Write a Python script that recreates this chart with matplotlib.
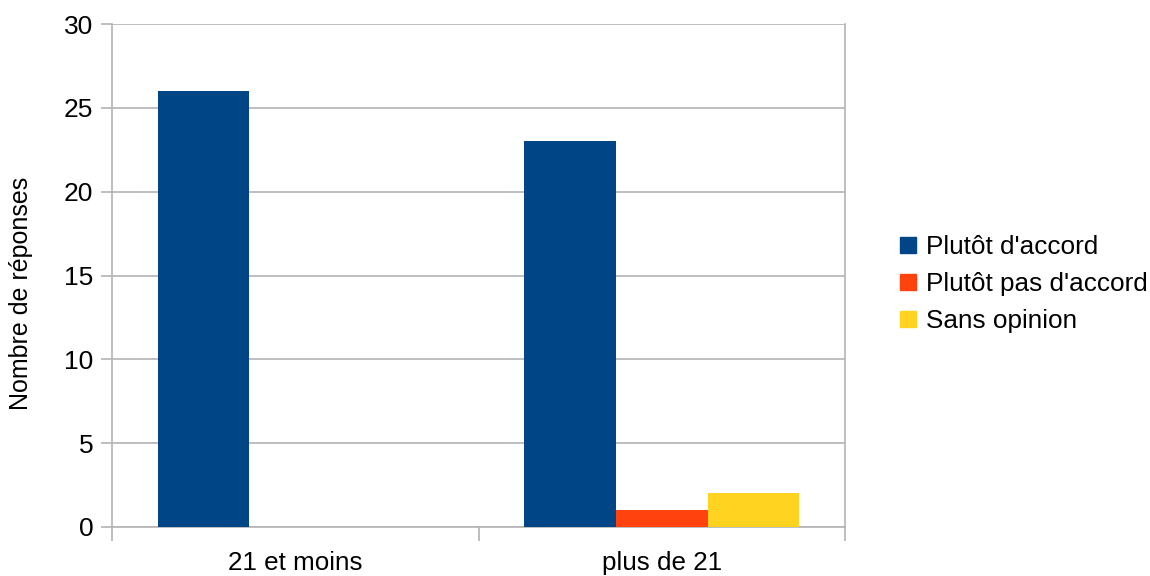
import matplotlib
matplotlib.use('Agg')
import matplotlib.pyplot as plt
from matplotlib.lines import Line2D
import numpy as np

plt.rcParams['font.family'] = ['Liberation Sans', 'DejaVu Sans']

# data
categories = ['21 et moins', 'plus de 21']
series_names = ["Plutôt d'accord", "Plutôt pas d'accord", 'Sans opinion']
accord = [26, 23]
pas_accord = [0, 1]
sans_opinion = [0, 2]
colors = ['#004586', '#ff420e', '#ffd320']

fig = plt.figure(figsize=(11.5, 5.76), dpi=100)
ax = fig.add_axes([112/1150, 1 - 527/576, (845-112)/1150, (527-24)/576])

x = np.arange(len(categories))
w = 0.25
for i, vals in enumerate([accord, pas_accord, sans_opinion]):
    ax.bar(x + (i - 1) * w, vals, width=w, color=colors[i], zorder=3)

ax.set_xlim(-0.5, len(categories) - 0.5)
ax.set_ylim(0, 30)
ax.set_yticks(range(0, 31, 5))
ax.grid(axis='y', color='#b3b3b3', linewidth=1.2, zorder=0)

# category labels centered, separator ticks between categories
ax.set_xticks(x)
ax.set_xticklabels(categories, fontsize=18.7)
ax.tick_params(axis='x', length=0, pad=17)
ax.set_xticks(np.arange(-0.5, len(categories)), minor=True)
ax.tick_params(axis='x', which='minor', length=10, color='#b3b3b3', width=1.2)
ax.tick_params(axis='y', labelsize=19, length=8, color='#b3b3b3', width=1.2, pad=5.5)

for s in ['left', 'bottom', 'right']:
    ax.spines[s].set_color('#b3b3b3')
    ax.spines[s].set_linewidth(1.2)
ax.spines['top'].set_visible(False)

ax.set_ylabel('Nombre de réponses', fontsize=18)
ax.yaxis.set_label_coords(-0.108, 0.464)

handles = [Line2D([], [], marker='s', linestyle='none', markersize=11.5,
                  markerfacecolor=c, markeredgecolor=c) for c in colors]
fig.legend(handles, series_names, loc='center left', bbox_to_anchor=(884/1150, 1 - 284/576),
           frameon=False, fontsize=18.8, handletextpad=0.2, labelspacing=0.5,
           handlelength=1.0, borderaxespad=0)

fig.savefig('out.png', dpi=100)
